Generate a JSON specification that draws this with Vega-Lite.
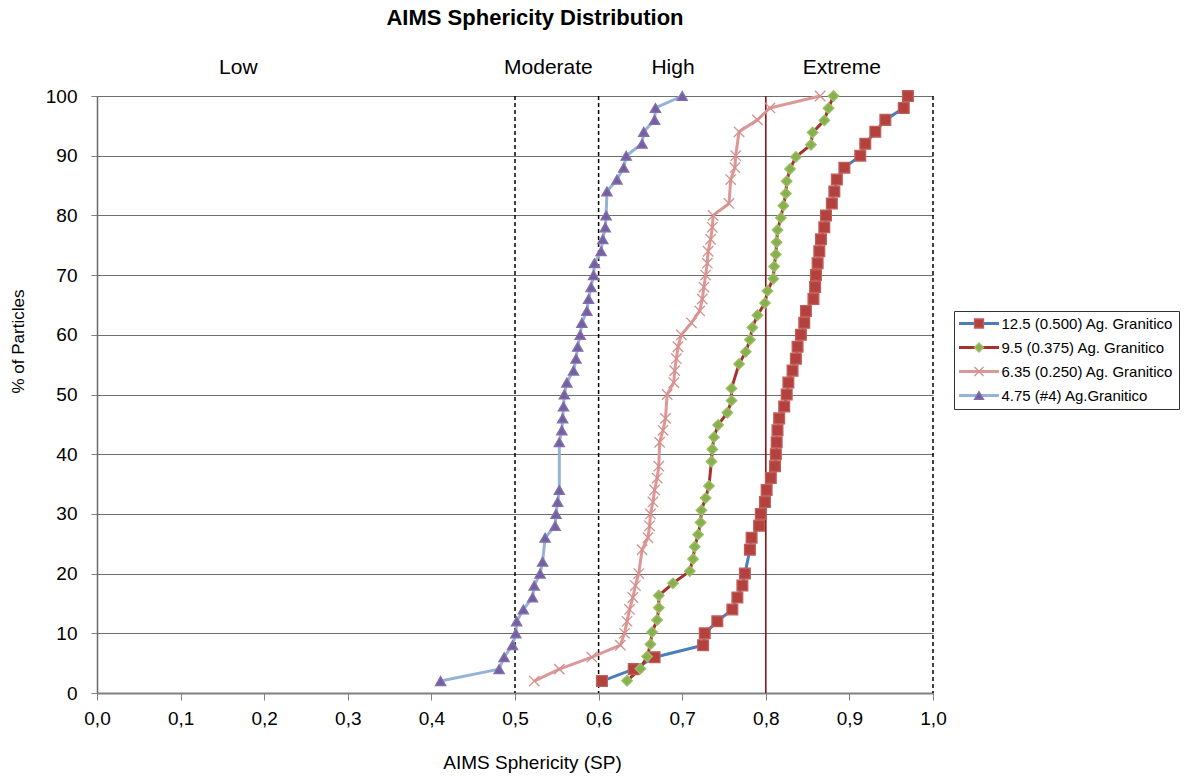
{
  "$schema": "https://vega.github.io/schema/vega-lite/v6.json",
  "width": 836,
  "height": 597,
  "autosize": {"type": "none"},
  "padding": {"left": 97, "top": 96, "right": 254, "bottom": 85},
  "background": "white",
  "config": {"font": "Liberation Sans", "view": {"stroke": null}},
  "title": {"text": "AIMS Sphericity Distribution", "fontSize": 22, "fontWeight": "bold", "color": "black", "anchor": "middle", "dx": 20, "offset": 27},
  "datasets": {
    "pts": [
      {"s": "12.5 (0.500) Ag. Granitico", "pct": 2, "sp": 0.604},
      {"s": "12.5 (0.500) Ag. Granitico", "pct": 4, "sp": 0.642},
      {"s": "12.5 (0.500) Ag. Granitico", "pct": 6, "sp": 0.667},
      {"s": "12.5 (0.500) Ag. Granitico", "pct": 8, "sp": 0.725},
      {"s": "12.5 (0.500) Ag. Granitico", "pct": 10, "sp": 0.727},
      {"s": "12.5 (0.500) Ag. Granitico", "pct": 12, "sp": 0.742},
      {"s": "12.5 (0.500) Ag. Granitico", "pct": 14, "sp": 0.760},
      {"s": "12.5 (0.500) Ag. Granitico", "pct": 16, "sp": 0.766},
      {"s": "12.5 (0.500) Ag. Granitico", "pct": 18, "sp": 0.772},
      {"s": "12.5 (0.500) Ag. Granitico", "pct": 20, "sp": 0.775},
      {"s": "12.5 (0.500) Ag. Granitico", "pct": 24, "sp": 0.781},
      {"s": "12.5 (0.500) Ag. Granitico", "pct": 26, "sp": 0.783},
      {"s": "12.5 (0.500) Ag. Granitico", "pct": 28, "sp": 0.792},
      {"s": "12.5 (0.500) Ag. Granitico", "pct": 30, "sp": 0.794},
      {"s": "12.5 (0.500) Ag. Granitico", "pct": 32, "sp": 0.799},
      {"s": "12.5 (0.500) Ag. Granitico", "pct": 34, "sp": 0.801},
      {"s": "12.5 (0.500) Ag. Granitico", "pct": 36, "sp": 0.806},
      {"s": "12.5 (0.500) Ag. Granitico", "pct": 38, "sp": 0.811},
      {"s": "12.5 (0.500) Ag. Granitico", "pct": 40, "sp": 0.812},
      {"s": "12.5 (0.500) Ag. Granitico", "pct": 42, "sp": 0.813},
      {"s": "12.5 (0.500) Ag. Granitico", "pct": 44, "sp": 0.814},
      {"s": "12.5 (0.500) Ag. Granitico", "pct": 46, "sp": 0.816},
      {"s": "12.5 (0.500) Ag. Granitico", "pct": 48, "sp": 0.822},
      {"s": "12.5 (0.500) Ag. Granitico", "pct": 50, "sp": 0.825},
      {"s": "12.5 (0.500) Ag. Granitico", "pct": 52, "sp": 0.827},
      {"s": "12.5 (0.500) Ag. Granitico", "pct": 54, "sp": 0.832},
      {"s": "12.5 (0.500) Ag. Granitico", "pct": 56, "sp": 0.836},
      {"s": "12.5 (0.500) Ag. Granitico", "pct": 58, "sp": 0.838},
      {"s": "12.5 (0.500) Ag. Granitico", "pct": 60, "sp": 0.842},
      {"s": "12.5 (0.500) Ag. Granitico", "pct": 62, "sp": 0.846},
      {"s": "12.5 (0.500) Ag. Granitico", "pct": 64, "sp": 0.848},
      {"s": "12.5 (0.500) Ag. Granitico", "pct": 66, "sp": 0.857},
      {"s": "12.5 (0.500) Ag. Granitico", "pct": 68, "sp": 0.859},
      {"s": "12.5 (0.500) Ag. Granitico", "pct": 70, "sp": 0.860},
      {"s": "12.5 (0.500) Ag. Granitico", "pct": 72, "sp": 0.862},
      {"s": "12.5 (0.500) Ag. Granitico", "pct": 74, "sp": 0.864},
      {"s": "12.5 (0.500) Ag. Granitico", "pct": 76, "sp": 0.866},
      {"s": "12.5 (0.500) Ag. Granitico", "pct": 78, "sp": 0.870},
      {"s": "12.5 (0.500) Ag. Granitico", "pct": 80, "sp": 0.872},
      {"s": "12.5 (0.500) Ag. Granitico", "pct": 82, "sp": 0.879},
      {"s": "12.5 (0.500) Ag. Granitico", "pct": 84, "sp": 0.882},
      {"s": "12.5 (0.500) Ag. Granitico", "pct": 86, "sp": 0.885},
      {"s": "12.5 (0.500) Ag. Granitico", "pct": 88, "sp": 0.894},
      {"s": "12.5 (0.500) Ag. Granitico", "pct": 90, "sp": 0.913},
      {"s": "12.5 (0.500) Ag. Granitico", "pct": 92, "sp": 0.919},
      {"s": "12.5 (0.500) Ag. Granitico", "pct": 94, "sp": 0.931},
      {"s": "12.5 (0.500) Ag. Granitico", "pct": 96, "sp": 0.943},
      {"s": "12.5 (0.500) Ag. Granitico", "pct": 98, "sp": 0.965},
      {"s": "12.5 (0.500) Ag. Granitico", "pct": 100, "sp": 0.970},
      {"s": "9.5 (0.375) Ag. Granitico", "pct": 2.04, "sp": 0.634},
      {"s": "9.5 (0.375) Ag. Granitico", "pct": 4.08, "sp": 0.650},
      {"s": "9.5 (0.375) Ag. Granitico", "pct": 6.12, "sp": 0.658},
      {"s": "9.5 (0.375) Ag. Granitico", "pct": 8.16, "sp": 0.662},
      {"s": "9.5 (0.375) Ag. Granitico", "pct": 10.2, "sp": 0.664},
      {"s": "9.5 (0.375) Ag. Granitico", "pct": 12.24, "sp": 0.670},
      {"s": "9.5 (0.375) Ag. Granitico", "pct": 14.29, "sp": 0.672},
      {"s": "9.5 (0.375) Ag. Granitico", "pct": 16.33, "sp": 0.672},
      {"s": "9.5 (0.375) Ag. Granitico", "pct": 18.37, "sp": 0.689},
      {"s": "9.5 (0.375) Ag. Granitico", "pct": 20.41, "sp": 0.709},
      {"s": "9.5 (0.375) Ag. Granitico", "pct": 22.45, "sp": 0.713},
      {"s": "9.5 (0.375) Ag. Granitico", "pct": 24.49, "sp": 0.715},
      {"s": "9.5 (0.375) Ag. Granitico", "pct": 26.53, "sp": 0.719},
      {"s": "9.5 (0.375) Ag. Granitico", "pct": 28.57, "sp": 0.722},
      {"s": "9.5 (0.375) Ag. Granitico", "pct": 30.61, "sp": 0.723},
      {"s": "9.5 (0.375) Ag. Granitico", "pct": 32.65, "sp": 0.728},
      {"s": "9.5 (0.375) Ag. Granitico", "pct": 34.69, "sp": 0.732},
      {"s": "9.5 (0.375) Ag. Granitico", "pct": 38.78, "sp": 0.735},
      {"s": "9.5 (0.375) Ag. Granitico", "pct": 40.82, "sp": 0.736},
      {"s": "9.5 (0.375) Ag. Granitico", "pct": 42.86, "sp": 0.738},
      {"s": "9.5 (0.375) Ag. Granitico", "pct": 44.9, "sp": 0.743},
      {"s": "9.5 (0.375) Ag. Granitico", "pct": 46.94, "sp": 0.754},
      {"s": "9.5 (0.375) Ag. Granitico", "pct": 48.98, "sp": 0.759},
      {"s": "9.5 (0.375) Ag. Granitico", "pct": 51.02, "sp": 0.759},
      {"s": "9.5 (0.375) Ag. Granitico", "pct": 55.1, "sp": 0.768},
      {"s": "9.5 (0.375) Ag. Granitico", "pct": 57.14, "sp": 0.776},
      {"s": "9.5 (0.375) Ag. Granitico", "pct": 59.18, "sp": 0.781},
      {"s": "9.5 (0.375) Ag. Granitico", "pct": 61.22, "sp": 0.784},
      {"s": "9.5 (0.375) Ag. Granitico", "pct": 63.27, "sp": 0.790},
      {"s": "9.5 (0.375) Ag. Granitico", "pct": 65.31, "sp": 0.799},
      {"s": "9.5 (0.375) Ag. Granitico", "pct": 67.35, "sp": 0.802},
      {"s": "9.5 (0.375) Ag. Granitico", "pct": 69.39, "sp": 0.809},
      {"s": "9.5 (0.375) Ag. Granitico", "pct": 71.43, "sp": 0.810},
      {"s": "9.5 (0.375) Ag. Granitico", "pct": 73.47, "sp": 0.812},
      {"s": "9.5 (0.375) Ag. Granitico", "pct": 75.51, "sp": 0.813},
      {"s": "9.5 (0.375) Ag. Granitico", "pct": 77.55, "sp": 0.814},
      {"s": "9.5 (0.375) Ag. Granitico", "pct": 79.59, "sp": 0.818},
      {"s": "9.5 (0.375) Ag. Granitico", "pct": 81.63, "sp": 0.821},
      {"s": "9.5 (0.375) Ag. Granitico", "pct": 83.67, "sp": 0.824},
      {"s": "9.5 (0.375) Ag. Granitico", "pct": 85.71, "sp": 0.825},
      {"s": "9.5 (0.375) Ag. Granitico", "pct": 87.76, "sp": 0.829},
      {"s": "9.5 (0.375) Ag. Granitico", "pct": 89.8, "sp": 0.836},
      {"s": "9.5 (0.375) Ag. Granitico", "pct": 91.84, "sp": 0.854},
      {"s": "9.5 (0.375) Ag. Granitico", "pct": 93.88, "sp": 0.856},
      {"s": "9.5 (0.375) Ag. Granitico", "pct": 95.92, "sp": 0.870},
      {"s": "9.5 (0.375) Ag. Granitico", "pct": 97.96, "sp": 0.875},
      {"s": "9.5 (0.375) Ag. Granitico", "pct": 100, "sp": 0.881},
      {"s": "6.35 (0.250) Ag. Granitico", "pct": 2, "sp": 0.523},
      {"s": "6.35 (0.250) Ag. Granitico", "pct": 4, "sp": 0.553},
      {"s": "6.35 (0.250) Ag. Granitico", "pct": 6, "sp": 0.592},
      {"s": "6.35 (0.250) Ag. Granitico", "pct": 8, "sp": 0.626},
      {"s": "6.35 (0.250) Ag. Granitico", "pct": 10, "sp": 0.631},
      {"s": "6.35 (0.250) Ag. Granitico", "pct": 12, "sp": 0.634},
      {"s": "6.35 (0.250) Ag. Granitico", "pct": 14, "sp": 0.637},
      {"s": "6.35 (0.250) Ag. Granitico", "pct": 16, "sp": 0.641},
      {"s": "6.35 (0.250) Ag. Granitico", "pct": 18, "sp": 0.644},
      {"s": "6.35 (0.250) Ag. Granitico", "pct": 20, "sp": 0.648},
      {"s": "6.35 (0.250) Ag. Granitico", "pct": 24, "sp": 0.652},
      {"s": "6.35 (0.250) Ag. Granitico", "pct": 26, "sp": 0.659},
      {"s": "6.35 (0.250) Ag. Granitico", "pct": 28, "sp": 0.661},
      {"s": "6.35 (0.250) Ag. Granitico", "pct": 30, "sp": 0.662},
      {"s": "6.35 (0.250) Ag. Granitico", "pct": 32, "sp": 0.665},
      {"s": "6.35 (0.250) Ag. Granitico", "pct": 34, "sp": 0.667},
      {"s": "6.35 (0.250) Ag. Granitico", "pct": 36, "sp": 0.670},
      {"s": "6.35 (0.250) Ag. Granitico", "pct": 38, "sp": 0.672},
      {"s": "6.35 (0.250) Ag. Granitico", "pct": 42, "sp": 0.673},
      {"s": "6.35 (0.250) Ag. Granitico", "pct": 44, "sp": 0.677},
      {"s": "6.35 (0.250) Ag. Granitico", "pct": 46, "sp": 0.680},
      {"s": "6.35 (0.250) Ag. Granitico", "pct": 50, "sp": 0.682},
      {"s": "6.35 (0.250) Ag. Granitico", "pct": 52, "sp": 0.690},
      {"s": "6.35 (0.250) Ag. Granitico", "pct": 54, "sp": 0.691},
      {"s": "6.35 (0.250) Ag. Granitico", "pct": 56, "sp": 0.693},
      {"s": "6.35 (0.250) Ag. Granitico", "pct": 58, "sp": 0.695},
      {"s": "6.35 (0.250) Ag. Granitico", "pct": 60, "sp": 0.699},
      {"s": "6.35 (0.250) Ag. Granitico", "pct": 62, "sp": 0.711},
      {"s": "6.35 (0.250) Ag. Granitico", "pct": 64, "sp": 0.721},
      {"s": "6.35 (0.250) Ag. Granitico", "pct": 66, "sp": 0.724},
      {"s": "6.35 (0.250) Ag. Granitico", "pct": 68, "sp": 0.726},
      {"s": "6.35 (0.250) Ag. Granitico", "pct": 70, "sp": 0.728},
      {"s": "6.35 (0.250) Ag. Granitico", "pct": 72, "sp": 0.730},
      {"s": "6.35 (0.250) Ag. Granitico", "pct": 74, "sp": 0.731},
      {"s": "6.35 (0.250) Ag. Granitico", "pct": 76, "sp": 0.734},
      {"s": "6.35 (0.250) Ag. Granitico", "pct": 78, "sp": 0.736},
      {"s": "6.35 (0.250) Ag. Granitico", "pct": 80, "sp": 0.737},
      {"s": "6.35 (0.250) Ag. Granitico", "pct": 82, "sp": 0.756},
      {"s": "6.35 (0.250) Ag. Granitico", "pct": 86, "sp": 0.758},
      {"s": "6.35 (0.250) Ag. Granitico", "pct": 88, "sp": 0.763},
      {"s": "6.35 (0.250) Ag. Granitico", "pct": 90, "sp": 0.764},
      {"s": "6.35 (0.250) Ag. Granitico", "pct": 94, "sp": 0.768},
      {"s": "6.35 (0.250) Ag. Granitico", "pct": 96, "sp": 0.790},
      {"s": "6.35 (0.250) Ag. Granitico", "pct": 98, "sp": 0.805},
      {"s": "6.35 (0.250) Ag. Granitico", "pct": 100, "sp": 0.865},
      {"s": "4.75 (#4) Ag.Granitico", "pct": 2, "sp": 0.411},
      {"s": "4.75 (#4) Ag.Granitico", "pct": 4, "sp": 0.481},
      {"s": "4.75 (#4) Ag.Granitico", "pct": 6, "sp": 0.487},
      {"s": "4.75 (#4) Ag.Granitico", "pct": 8, "sp": 0.497},
      {"s": "4.75 (#4) Ag.Granitico", "pct": 10, "sp": 0.501},
      {"s": "4.75 (#4) Ag.Granitico", "pct": 12, "sp": 0.502},
      {"s": "4.75 (#4) Ag.Granitico", "pct": 14, "sp": 0.510},
      {"s": "4.75 (#4) Ag.Granitico", "pct": 16, "sp": 0.521},
      {"s": "4.75 (#4) Ag.Granitico", "pct": 18, "sp": 0.523},
      {"s": "4.75 (#4) Ag.Granitico", "pct": 20, "sp": 0.530},
      {"s": "4.75 (#4) Ag.Granitico", "pct": 22, "sp": 0.533},
      {"s": "4.75 (#4) Ag.Granitico", "pct": 26, "sp": 0.536},
      {"s": "4.75 (#4) Ag.Granitico", "pct": 28, "sp": 0.548},
      {"s": "4.75 (#4) Ag.Granitico", "pct": 30, "sp": 0.549},
      {"s": "4.75 (#4) Ag.Granitico", "pct": 32, "sp": 0.551},
      {"s": "4.75 (#4) Ag.Granitico", "pct": 34, "sp": 0.553},
      {"s": "4.75 (#4) Ag.Granitico", "pct": 42, "sp": 0.553},
      {"s": "4.75 (#4) Ag.Granitico", "pct": 44, "sp": 0.556},
      {"s": "4.75 (#4) Ag.Granitico", "pct": 46, "sp": 0.557},
      {"s": "4.75 (#4) Ag.Granitico", "pct": 48, "sp": 0.558},
      {"s": "4.75 (#4) Ag.Granitico", "pct": 50, "sp": 0.559},
      {"s": "4.75 (#4) Ag.Granitico", "pct": 52, "sp": 0.562},
      {"s": "4.75 (#4) Ag.Granitico", "pct": 54, "sp": 0.570},
      {"s": "4.75 (#4) Ag.Granitico", "pct": 56, "sp": 0.573},
      {"s": "4.75 (#4) Ag.Granitico", "pct": 58, "sp": 0.575},
      {"s": "4.75 (#4) Ag.Granitico", "pct": 60, "sp": 0.578},
      {"s": "4.75 (#4) Ag.Granitico", "pct": 62, "sp": 0.580},
      {"s": "4.75 (#4) Ag.Granitico", "pct": 64, "sp": 0.586},
      {"s": "4.75 (#4) Ag.Granitico", "pct": 66, "sp": 0.588},
      {"s": "4.75 (#4) Ag.Granitico", "pct": 68, "sp": 0.591},
      {"s": "4.75 (#4) Ag.Granitico", "pct": 70, "sp": 0.594},
      {"s": "4.75 (#4) Ag.Granitico", "pct": 72, "sp": 0.595},
      {"s": "4.75 (#4) Ag.Granitico", "pct": 74, "sp": 0.603},
      {"s": "4.75 (#4) Ag.Granitico", "pct": 76, "sp": 0.605},
      {"s": "4.75 (#4) Ag.Granitico", "pct": 78, "sp": 0.608},
      {"s": "4.75 (#4) Ag.Granitico", "pct": 80, "sp": 0.609},
      {"s": "4.75 (#4) Ag.Granitico", "pct": 84, "sp": 0.610},
      {"s": "4.75 (#4) Ag.Granitico", "pct": 86, "sp": 0.622},
      {"s": "4.75 (#4) Ag.Granitico", "pct": 88, "sp": 0.630},
      {"s": "4.75 (#4) Ag.Granitico", "pct": 90, "sp": 0.633},
      {"s": "4.75 (#4) Ag.Granitico", "pct": 92, "sp": 0.652},
      {"s": "4.75 (#4) Ag.Granitico", "pct": 94, "sp": 0.654},
      {"s": "4.75 (#4) Ag.Granitico", "pct": 96, "sp": 0.667},
      {"s": "4.75 (#4) Ag.Granitico", "pct": 98, "sp": 0.668},
      {"s": "4.75 (#4) Ag.Granitico", "pct": 100, "sp": 0.700}
    ]
  },
  "layer": [
    {
      "data": {"values": [{"sp": 0.5}, {"sp": 0.6}, {"sp": 1.0}]},
      "mark": {"type": "rule", "color": "black", "strokeWidth": 1.5, "strokeDash": [4, 3]},
      "encoding": {"x": {"field": "sp", "type": "quantitative", "scale": {"domain": [0, 1]}}}
    },
    {
      "data": {"values": [{"sp": 0.8}]},
      "mark": {"type": "rule", "color": "#8E1515", "strokeWidth": 1.6},
      "encoding": {"x": {"field": "sp", "type": "quantitative", "scale": {"domain": [0, 1]}}}
    },
    {
      "data": {"name": "pts"},
      "mark": {"type": "line", "strokeJoin": "round"},
      "encoding": {
        "x": {"field": "sp", "type": "quantitative", "scale": {"domain": [0, 1], "nice": false},
          "axis": {"title": "AIMS Sphericity (SP)", "titleFontSize": 19, "titleFontWeight": "normal", "titleColor": "black", "titleX": 435, "titleY": 69, "titleBaseline": "middle",
            "values": [0, 0.1, 0.2, 0.3, 0.4, 0.5, 0.6, 0.7, 0.8, 0.9, 1.0], "labelExpr": "replace(format(datum.value, '.1f'), '.', ',')",
            "labelFontSize": 19, "labelColor": "black", "labelPadding": 9, "tickSize": 7, "tickColor": "#808080", "domainColor": "#808080", "domainWidth": 2, "grid": false, "labelFlush": false, "labelOverlap": false}},
        "y": {"field": "pct", "type": "quantitative", "scale": {"domain": [0, 100], "nice": false},
          "axis": {"title": "% of Particles", "titleFontSize": 17, "titleFontWeight": "normal", "titleColor": "black", "titleX": -79, "titleY": 245, "titleBaseline": "middle", "titleAngle": -90,
            "values": [0, 10, 20, 30, 40, 50, 60, 70, 80, 90, 100], "labelFontSize": 19, "labelColor": "black", "labelPadding": 14, "tickSize": 6, "tickColor": "#808080", "domainColor": "#6a6a6a", "domainWidth": 1.5,
            "grid": true, "gridColor": "#6e6e6e", "gridWidth": 1.2, "labelOverlap": false}},
        "stroke": {"field": "s", "type": "nominal", "scale": {"domain": ["12.5 (0.500) Ag. Granitico", "9.5 (0.375) Ag. Granitico", "6.35 (0.250) Ag. Granitico", "4.75 (#4) Ag.Granitico"], "range": ["#4A7EBB", "#A8312F", "#DC9896", "#95B3D7"]}, "legend": null},
        "strokeWidth": {"field": "s", "type": "nominal", "scale": {"domain": ["12.5 (0.500) Ag. Granitico", "9.5 (0.375) Ag. Granitico", "6.35 (0.250) Ag. Granitico", "4.75 (#4) Ag.Granitico"], "range": [3, 3, 3.5, 3.5]}, "legend": null},
        "order": {"field": "pct", "type": "quantitative"}
      }
    },
    {
      "data": {"name": "pts"},
      "mark": {"type": "point", "filled": true, "opacity": 1, "strokeWidth": 1.3},
      "encoding": {
        "x": {"field": "sp", "type": "quantitative", "scale": {"domain": [0, 1]}},
        "y": {"field": "pct", "type": "quantitative", "scale": {"domain": [0, 100]}},
        "shape": {"field": "s", "type": "nominal", "scale": {"domain": ["12.5 (0.500) Ag. Granitico", "9.5 (0.375) Ag. Granitico", "6.35 (0.250) Ag. Granitico", "4.75 (#4) Ag.Granitico"], "range": ["square", "diamond", "M-1,-1L1,1M-1,1L1,-1", "triangle-up"]}, "legend": null},
        "fill": {"field": "s", "type": "nominal", "scale": {"domain": ["12.5 (0.500) Ag. Granitico", "9.5 (0.375) Ag. Granitico", "6.35 (0.250) Ag. Granitico", "4.75 (#4) Ag.Granitico"], "range": ["#B3413D", "#89B04F", "#D99694", "#7460A1"]}, "legend": null},
        "stroke": {"field": "s", "type": "nominal", "scale": {"domain": ["12.5 (0.500) Ag. Granitico", "9.5 (0.375) Ag. Granitico", "6.35 (0.250) Ag. Granitico", "4.75 (#4) Ag.Granitico"], "range": ["#C25E5A", "#9CBF66", "#D68F8D", "#8470AE"]}, "legend": null},
        "size": {"field": "s", "type": "nominal", "scale": {"domain": ["12.5 (0.500) Ag. Granitico", "9.5 (0.375) Ag. Granitico", "6.35 (0.250) Ag. Granitico", "4.75 (#4) Ag.Granitico"], "range": [115, 105, 75, 130]}, "legend": null}
      }
    },
    {
      "data": {"values": [{"cls": "Low", "sp": 0.169}, {"cls": "Moderate", "sp": 0.54}, {"cls": "High", "sp": 0.689}, {"cls": "Extreme", "sp": 0.891}]},
      "mark": {"type": "text", "fontSize": 21, "color": "black", "baseline": "middle", "align": "center"},
      "encoding": {
        "x": {"field": "sp", "type": "quantitative", "scale": {"domain": [0, 1]}},
        "y": {"datum": 104.7, "type": "quantitative", "scale": {"domain": [0, 100]}},
        "text": {"field": "cls"}
      }
    },
    {
      "data": {"name": "pts"},
      "mark": {"type": "point", "opacity": 0, "filled": false, "shape": "M-4.444,0H4.444"},
      "encoding": {
        "x": {"field": "sp", "type": "quantitative", "scale": {"domain": [0, 1]}},
        "y": {"field": "pct", "type": "quantitative", "scale": {"domain": [0, 100]}},
        "stroke": {"field": "s", "type": "nominal", "scale": {"domain": ["12.5 (0.500) Ag. Granitico", "9.5 (0.375) Ag. Granitico", "6.35 (0.250) Ag. Granitico", "4.75 (#4) Ag.Granitico"], "range": ["#4A7EBB", "#A8312F", "#DC9896", "#95B3D7"]},
          "legend": {"title": null, "orient": "none", "legendX": 857, "legendY": 215, "symbolType": "M-4.444,0H4.444", "symbolSize": 81, "symbolStrokeWidth": 3, "symbolOffset": 12.5, "labelOffset": 15, "labelFontSize": 15, "labelColor": "black", "labelLimit": 400, "rowPadding": 8, "padding": 5, "strokeColor": "#333333", "fillColor": "white", "symbolOpacity": 1, "symbolFillColor": "transparent"}}
      }
    },
    {
      "data": {"name": "pts"},
      "mark": {"type": "point", "opacity": 0, "filled": true},
      "encoding": {
        "x": {"field": "sp", "type": "quantitative", "scale": {"domain": [0, 1]}},
        "y": {"field": "pct", "type": "quantitative", "scale": {"domain": [0, 100]}},
        "shape": {"field": "s", "type": "nominal", "scale": {"domain": ["12.5 (0.500) Ag. Granitico", "9.5 (0.375) Ag. Granitico", "6.35 (0.250) Ag. Granitico", "4.75 (#4) Ag.Granitico"], "range": ["square", "diamond", "M-1,-1L1,1M-1,1L1,-1", "triangle-up"]},
          "legend": {"title": null, "orient": "none", "legendX": 857, "legendY": 215, "symbolSize": 81, "symbolStrokeWidth": 1.3, "symbolOffset": 12.5, "labelOffset": 15, "labelFontSize": 15, "labelColor": "transparent", "labelLimit": 400, "rowPadding": 8, "padding": 5, "symbolOpacity": 1}},
        "fill": {"field": "s", "type": "nominal", "scale": {"domain": ["12.5 (0.500) Ag. Granitico", "9.5 (0.375) Ag. Granitico", "6.35 (0.250) Ag. Granitico", "4.75 (#4) Ag.Granitico"], "range": ["#B3413D", "#89B04F", "#D99694", "#7460A1"]},
          "legend": {"title": null, "orient": "none", "legendX": 857, "legendY": 215, "symbolSize": 81, "symbolStrokeWidth": 1.3, "symbolOffset": 12.5, "labelOffset": 15, "labelFontSize": 15, "labelColor": "transparent", "labelLimit": 400, "rowPadding": 8, "padding": 5, "symbolOpacity": 1}},
        "stroke": {"field": "s", "type": "nominal", "scale": {"domain": ["12.5 (0.500) Ag. Granitico", "9.5 (0.375) Ag. Granitico", "6.35 (0.250) Ag. Granitico", "4.75 (#4) Ag.Granitico"], "range": ["#C25E5A", "#9CBF66", "#D68F8D", "#8470AE"]},
          "legend": {"title": null, "orient": "none", "legendX": 857, "legendY": 215, "symbolSize": 81, "symbolStrokeWidth": 1.3, "symbolOffset": 12.5, "labelOffset": 15, "labelFontSize": 15, "labelColor": "transparent", "labelLimit": 400, "rowPadding": 8, "padding": 5, "symbolOpacity": 1}}
      }
    }
  ],
  "resolve": {"scale": {"stroke": "independent", "fill": "independent", "shape": "independent", "size": "independent", "strokeWidth": "independent"}}
}
